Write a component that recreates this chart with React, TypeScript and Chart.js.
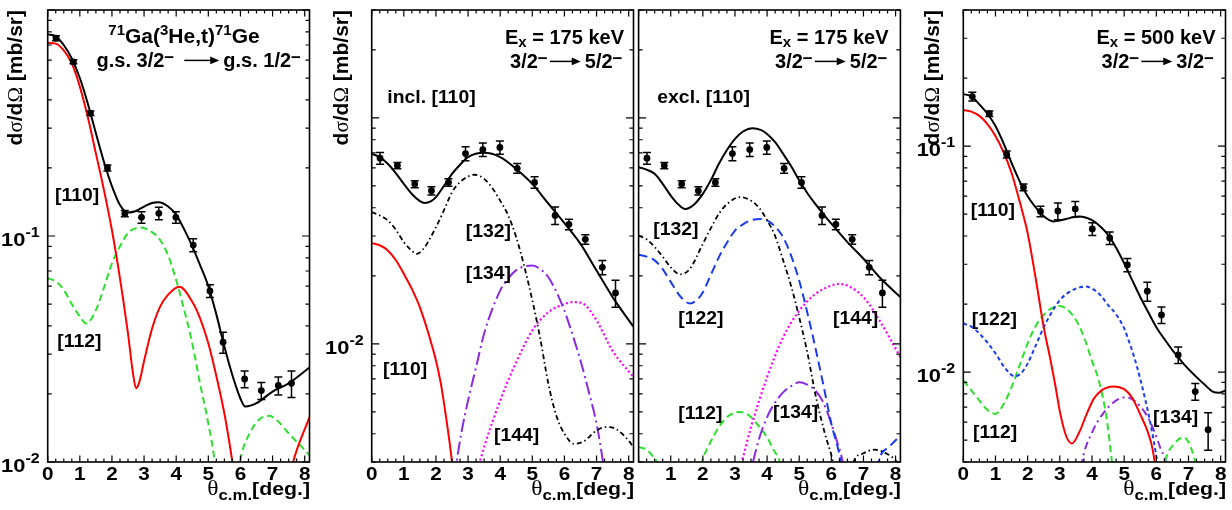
import React, { useEffect, useRef } from 'react';
import { Chart, registerables } from 'chart.js';

Chart.register(...registerables);

type Pt = [number, number];

const CANVAS_W = 1232;
const CANVAS_H = 510;
const X_MAX = 8.15;

// ---------------- Panel 1 : 71Ga(3He,t)71Ge  g.s. -> g.s. ----------------
const p1Angles = [0.26, 0.8, 1.33, 1.86, 2.4, 2.92, 3.46, 3.99, 4.53, 5.05, 5.46, 6.13, 6.65, 7.18, 7.59];
const p1Sigma = [0.75, 0.59, 0.349, 0.2, 0.1256, 0.121, 0.126, 0.121, 0.0912, 0.0571, 0.0339, 0.0233, 0.0207, 0.0218, 0.0223];
const p1Errors = [0.019, 0.012, 0.008, 0.006, 0.004, 0.007, 0.008, 0.007, 0.006, 0.0037, 0.0036, 0.002, 0.0018, 0.002, 0.003];
const p1Total: Pt[] = [
  [0, 0.78], [0.25, 0.765], [0.5, 0.7], [0.75, 0.61], [1.0, 0.5], [1.25, 0.385], [1.5, 0.285], [1.75, 0.213],
  [2.0, 0.166], [2.25, 0.137], [2.5, 0.127], [2.75, 0.129], [3.0, 0.135], [3.25, 0.14], [3.45, 0.141],
  [3.75, 0.135], [4.0, 0.124], [4.25, 0.107], [4.5, 0.09], [4.75, 0.074], [5.0, 0.06], [5.25, 0.045],
  [5.5, 0.0324], [5.75, 0.0242], [6.0, 0.0191], [6.15, 0.0176], [6.5, 0.0182], [7.0, 0.0205], [7.5, 0.0223], [8.15, 0.0262],
];
const p1L110: Pt[] = [
  [0, 0.716], [0.25, 0.71], [0.5, 0.662], [0.75, 0.58], [1.0, 0.458], [1.25, 0.335], [1.5, 0.232], [1.75, 0.16],
  [2.0, 0.106], [2.25, 0.065], [2.5, 0.037], [2.65, 0.025], [2.75, 0.0212], [2.85, 0.0225], [3.0, 0.028],
  [3.25, 0.039], [3.5, 0.0487], [3.75, 0.055], [4.1, 0.0596], [4.5, 0.0512], [4.75, 0.043], [5.0, 0.0335],
  [5.25, 0.024], [5.5, 0.0164], [5.75, 0.01], [6.0, 0.0055], [6.3, 0.0022], [6.6, 0.0008], [6.9, 0.002],
  [7.25, 0.0055], [7.64, 0.01], [8.15, 0.0158],
];
const p1L112: Pt[] = [
  [0, 0.065], [0.25, 0.063], [0.5, 0.0577], [0.75, 0.05], [1.0, 0.044], [1.2, 0.041], [1.5, 0.047], [1.75, 0.059],
  [2.0, 0.0757], [2.25, 0.09], [2.5, 0.103], [2.9, 0.109], [3.25, 0.104], [3.5, 0.096], [3.75, 0.082], [4.0, 0.0638],
  [4.25, 0.047], [4.5, 0.0335], [4.75, 0.022], [5.0, 0.0148], [5.2, 0.01], [5.4, 0.005], [5.6, 0.0025],
  [5.8, 0.006], [6.0, 0.0102], [6.3, 0.0135], [6.6, 0.0155], [6.9, 0.016], [7.2, 0.015], [7.5, 0.0134],
  [8.0, 0.0113], [8.15, 0.0107],
];

// ---------------- Panels 2 & 3 : Ex = 175 keV (same data) ----------------
const p23Angles = [0.26, 0.8, 1.34, 1.86, 2.39, 2.92, 3.46, 3.99, 4.53, 5.07, 5.71, 6.14, 6.65, 7.18, 7.59];
const p23Sigma = [0.0663, 0.0615, 0.0509, 0.0476, 0.0518, 0.0695, 0.0724, 0.074, 0.0598, 0.0518, 0.037, 0.0338, 0.029, 0.0218, 0.0168];
const p23Errors = [0.004, 0.002, 0.0018, 0.002, 0.002, 0.005, 0.005, 0.005, 0.003, 0.003, 0.0033, 0.0018, 0.0014, 0.0016, 0.0023];

const p2Total: Pt[] = [
  [0, 0.0693], [0.25, 0.067], [0.5, 0.0626], [0.75, 0.057], [1.0, 0.051], [1.25, 0.046], [1.5, 0.0428],
  [1.65, 0.042], [1.85, 0.0428], [2.0, 0.0446], [2.25, 0.05], [2.5, 0.0565], [2.75, 0.062], [3.0, 0.067],
  [3.5, 0.07], [4.0, 0.067], [4.5, 0.0594], [5.0, 0.051], [5.5, 0.0417], [6.0, 0.0342], [6.5, 0.0277],
  [7.0, 0.0211], [7.5, 0.0161], [8.15, 0.0119],
];
const p2L132: Pt[] = [
  [0, 0.0383], [0.25, 0.037], [0.5, 0.0352], [0.75, 0.032], [1.0, 0.0282], [1.2, 0.0262], [1.4, 0.025],
  [1.6, 0.0262], [1.8, 0.029], [2.0, 0.0328], [2.25, 0.039], [2.5, 0.0469], [2.75, 0.052], [3.0, 0.055],
  [3.2, 0.056], [3.5, 0.0537], [3.75, 0.049], [4.0, 0.043], [4.25, 0.037], [4.5, 0.0296], [4.75, 0.022],
  [5.0, 0.0156], [5.25, 0.0105], [5.5, 0.00665], [5.75, 0.0048], [6.0, 0.004], [6.3, 0.00361], [6.6, 0.0037],
  [7.0, 0.00414], [7.3, 0.00428], [7.6, 0.0042], [8.0, 0.00373], [8.15, 0.00349],
];
const p2L110: Pt[] = [
  [0, 0.0279], [0.25, 0.0273], [0.5, 0.0259], [0.75, 0.0235], [1.0, 0.0204], [1.25, 0.0175], [1.5, 0.0145],
  [1.75, 0.0113], [2.0, 0.00844], [2.15, 0.0067], [2.3, 0.0049], [2.5, 0.003], [2.65, 0.0018], [2.8, 0.0008],
];
const p2L134: Pt[] = [
  [2.2, 0.0008], [2.45, 0.002], [2.64, 0.003], [2.8, 0.0041], [3.0, 0.00561], [3.25, 0.0079], [3.5, 0.0111],
  [3.75, 0.0142], [4.0, 0.0172], [4.25, 0.0195], [4.5, 0.0212], [4.75, 0.022], [5.0, 0.0222], [5.25, 0.0214],
  [5.5, 0.0197], [5.75, 0.017], [6.0, 0.014], [6.25, 0.011], [6.5, 0.00844], [6.75, 0.0062], [7.0, 0.00443],
  [7.2, 0.003], [7.4, 0.0018], [7.6, 0.0008],
];
const p2L144: Pt[] = [
  [2.9, 0.0018], [3.2, 0.0026], [3.36, 0.003], [3.5, 0.0035], [4.0, 0.00561], [4.5, 0.0083], [5.0, 0.01146],
  [5.5, 0.0138], [6.0, 0.015], [6.3, 0.0153], [6.6, 0.015], [7.0, 0.0127], [7.5, 0.0093], [8.15, 0.00713],
];

const p3Total: Pt[] = [
  [0, 0.0605], [0.25, 0.059], [0.5, 0.0565], [0.75, 0.051], [1.0, 0.0453], [1.25, 0.0412], [1.45, 0.0395],
  [1.7, 0.041], [2.0, 0.0461], [2.25, 0.053], [2.5, 0.0626], [2.75, 0.072], [3.0, 0.0807], [3.25, 0.087],
  [3.55, 0.09], [3.8, 0.0885], [4.0, 0.0849], [4.25, 0.078], [4.5, 0.0693], [4.75, 0.061], [5.0, 0.0529],
  [5.25, 0.0465], [5.5, 0.0416], [5.75, 0.0375], [6.0, 0.034], [6.5, 0.0282], [7.0, 0.0238], [7.5, 0.0197], [8.15, 0.0161],
];
const p3L132: Pt[] = [
  [0, 0.0301], [0.25, 0.029], [0.5, 0.0268], [0.75, 0.0243], [1.0, 0.0218], [1.3, 0.0203], [1.6, 0.0215],
  [2.0, 0.0277], [2.25, 0.0325], [2.5, 0.0376], [2.75, 0.0415], [3.15, 0.0446], [3.5, 0.043], [3.75, 0.04],
  [4.0, 0.0352], [4.25, 0.03], [4.5, 0.0234], [4.75, 0.018], [5.0, 0.0131], [5.25, 0.0092], [5.5, 0.00601],
  [5.8, 0.004], [6.05, 0.003], [6.3, 0.0018], [6.5, 0.0022], [6.69, 0.003], [7.0, 0.00328], [7.35, 0.0034],
  [7.7, 0.00328], [8.04, 0.003], [8.15, 0.0028],
];
const p3L122: Pt[] = [
  [0, 0.0248], [0.25, 0.0243], [0.5, 0.0234], [0.75, 0.0214], [1.0, 0.0188], [1.3, 0.0162], [1.6, 0.0151],
  [1.85, 0.0158], [2.0, 0.0169], [2.25, 0.0202], [2.5, 0.0242], [2.75, 0.028], [3.0, 0.0317], [3.25, 0.0338],
  [3.5, 0.0352], [3.8, 0.0357], [4.0, 0.0352], [4.25, 0.033], [4.5, 0.0296], [4.75, 0.0245], [5.0, 0.019],
  [5.25, 0.0138], [5.5, 0.00966], [5.75, 0.0066], [6.0, 0.00443], [6.3, 0.003], [6.6, 0.0015], [6.9, 0.0009],
  [7.2, 0.0015], [7.47, 0.003], [7.8, 0.0035], [8.15, 0.00393],
];
const p3L134: Pt[] = [
  [3.0, 0.0012], [3.3, 0.0022], [3.56, 0.003], [3.75, 0.0038], [4.0, 0.00474], [4.25, 0.0055], [4.5, 0.0061],
  [4.75, 0.0065], [5.0, 0.00676], [5.25, 0.0066], [5.5, 0.00622], [5.75, 0.0055], [6.0, 0.00443], [6.2, 0.0036],
  [6.35, 0.003], [6.6, 0.0015], [6.8, 0.0006],
];
const p3L144: Pt[] = [
  [2.7, 0.0012], [3.0, 0.0024], [3.21, 0.003], [3.5, 0.00428], [4.0, 0.00713], [4.5, 0.0107], [5.0, 0.014],
  [5.5, 0.0166], [6.0, 0.0181], [6.2, 0.0184], [6.5, 0.0181], [7.0, 0.0161], [7.5, 0.0127], [8.15, 0.00873],
];
const p3L112: Pt[] = [
  [0, 0.00349], [0.25, 0.0034], [0.5, 0.0031], [0.56, 0.003], [0.8, 0.0018], [1.1, 0.0008], [1.5, 0.0012],
  [1.75, 0.0022], [1.97, 0.003], [2.25, 0.0037], [2.5, 0.00428], [2.8, 0.0048], [3.15, 0.00499], [3.5, 0.00474],
  [3.75, 0.0043], [4.0, 0.00386], [4.2, 0.0034], [4.4, 0.003], [4.6, 0.0022], [4.9, 0.001],
];

// ---------------- Panel 4 : Ex = 500 keV ----------------
const p4Angles = [0.28, 0.81, 1.35, 1.87, 2.4, 2.94, 3.48, 4.01, 4.55, 5.1, 5.72, 6.16, 6.68, 7.21, 7.61];
const p4Sigma = [0.1656, 0.139, 0.0918, 0.0657, 0.0514, 0.0516, 0.0527, 0.043, 0.0392, 0.0298, 0.0228, 0.0179, 0.0119, 0.0082, 0.00556];
const p4Errors = [0.0075, 0.004, 0.0032, 0.0022, 0.0027, 0.0044, 0.0041, 0.0028, 0.0025, 0.002, 0.0022, 0.0015, 0.001, 0.0007, 0.00105];
const p4Total: Pt[] = [
  [0, 0.1698], [0.25, 0.166], [0.5, 0.153], [0.75, 0.139], [1.0, 0.1227], [1.25, 0.103], [1.5, 0.0843],
  [1.75, 0.07], [2.0, 0.06], [2.25, 0.0535], [2.5, 0.0489], [2.8, 0.0464], [3.0, 0.0468], [3.3, 0.048],
  [3.6, 0.0488], [3.8, 0.0483], [4.0, 0.047], [4.25, 0.0442], [4.5, 0.0405], [4.75, 0.0355], [5.0, 0.0303],
  [5.25, 0.0255], [5.5, 0.0215], [5.75, 0.0184], [6.0, 0.0158], [6.25, 0.014], [6.5, 0.0125], [6.75, 0.0113],
  [7.0, 0.0103], [7.25, 0.0095], [7.5, 0.0088], [7.75, 0.0082], [7.95, 0.0081], [8.15, 0.0083],
];
const p4L110: Pt[] = [
  [0, 0.1445], [0.25, 0.142], [0.5, 0.136], [0.75, 0.125], [1.0, 0.1107], [1.25, 0.094], [1.5, 0.076],
  [1.75, 0.057], [2.0, 0.0412], [2.25, 0.026], [2.5, 0.0158], [2.7, 0.0115], [2.85, 0.0089], [3.01, 0.0066],
  [3.2, 0.0052], [3.38, 0.00483], [3.6, 0.0054], [3.85, 0.0066], [4.05, 0.0076], [4.3, 0.0083], [4.67, 0.00864],
  [5.0, 0.0084], [5.25, 0.0077], [5.5, 0.0065], [5.7, 0.0056], [5.85, 0.0048], [5.95, 0.004], [6.15, 0.0024], [6.4, 0.001],
];
const p4L122: Pt[] = [
  [0, 0.0164], [0.25, 0.0159], [0.5, 0.0148], [0.75, 0.0135], [1.0, 0.0121], [1.3, 0.0104], [1.6, 0.00957],
  [1.8, 0.0099], [2.0, 0.0109], [2.25, 0.0131], [2.5, 0.0158], [2.75, 0.0184], [3.0, 0.0208], [3.25, 0.0224],
  [3.5, 0.0234], [3.8, 0.0239], [4.0, 0.0234], [4.25, 0.022], [4.5, 0.0198], [4.75, 0.018], [5.0, 0.0156],
  [5.14, 0.0138], [5.3, 0.0118], [5.51, 0.0092], [5.82, 0.0059], [6.03, 0.004], [6.3, 0.0022], [6.6, 0.001],
];
const p4L112: Pt[] = [
  [0, 0.00918], [0.25, 0.0083], [0.5, 0.00748], [0.75, 0.0068], [1.0, 0.00653], [1.25, 0.0072], [1.5, 0.00858],
  [1.75, 0.0107], [2.0, 0.0134], [2.25, 0.016], [2.5, 0.0179], [2.75, 0.0192], [3.0, 0.0196], [3.25, 0.0188],
  [3.5, 0.017], [3.75, 0.0143], [4.0, 0.0112], [4.21, 0.0092], [4.45, 0.0063], [4.62, 0.004], [4.85, 0.002],
  [5.2, 0.0008], [5.7, 0.0012], [6.05, 0.0026], [6.29, 0.0041], [6.55, 0.0048], [6.84, 0.00514], [7.0, 0.0049],
  [7.17, 0.0042], [7.35, 0.0032], [7.6, 0.0015],
];
const p4L134: Pt[] = [
  [3.45, 0.0022], [3.69, 0.004], [4.0, 0.0054], [4.36, 0.0066], [4.7, 0.0074], [5.05, 0.00775], [5.4, 0.0073],
  [5.71, 0.0064], [5.95, 0.0054], [6.13, 0.0046], [6.3, 0.004], [6.5, 0.0028], [6.8, 0.0012],
];

// ---------------- styles ----------------
const SANS = '"Liberation Sans", Arial, Helvetica, sans-serif';
const SERIF = '"Liberation Serif", "Times New Roman", serif';

const STY: Record<string, { color: string; dash: number[]; width: number }> = {
  total: { color: '#000000', dash: [], width: 2 },
  l110: { color: '#ff0000', dash: [], width: 2 },
  l112: { color: '#2ee02e', dash: [7, 4], width: 2 },
  l122a: { color: '#1a3cf0', dash: [9, 5], width: 2 },
  l122b: { color: '#1a3cf0', dash: [4, 3], width: 2 },
  l132: { color: '#000000', dash: [5, 3, 1.5, 3], width: 1.8 },
  l134a: { color: '#8a2be2', dash: [13, 4, 2, 4], width: 2 },
  l134b: { color: '#8a2be2', dash: [8, 4, 2, 4], width: 2 },
  l144: { color: '#ff00ff', dash: [2, 2.5], width: 2.2 },
};

type Seg = { t?: string; size?: number; family?: string; bold?: boolean; dy?: number; arrow?: number; gap?: number };

const MINUS_SUP: Seg = { t: '\u2212', size: 17, dy: -4.5 };

function segFont(s: Seg, base: number) {
  const size = s.size ?? base;
  const bold = s.bold ?? true;
  return `${bold ? 'bold ' : ''}${size}px ${s.family ?? SANS}`;
}

function drawRich(ctx: CanvasRenderingContext2D, segs: Seg[], x: number, y: number, align: string, base: number, sx = 1) {
  const widths = segs.map((s) => {
    if (s.arrow) return s.arrow;
    if (s.gap) return s.gap;
    ctx.font = segFont(s, base);
    return ctx.measureText(s.t || '').width;
  });
  const total = widths.reduce((a, b) => a + b, 0) * sx;
  const start = align === 'left' ? x : align === 'right' ? x - total : x - total / 2;
  ctx.save();
  ctx.translate(start, y);
  ctx.scale(sx, 1);
  ctx.textAlign = 'left';
  ctx.textBaseline = 'alphabetic';
  ctx.fillStyle = '#000';
  ctx.strokeStyle = '#000';
  let cx = 0;
  segs.forEach((s, i) => {
    if (s.arrow) {
      const ay = -0.33 * base;
      ctx.lineWidth = 1.5;
      ctx.beginPath();
      ctx.moveTo(cx, ay);
      ctx.lineTo(cx + s.arrow - 6, ay);
      ctx.stroke();
      ctx.beginPath();
      ctx.moveTo(cx + s.arrow, ay);
      ctx.lineTo(cx + s.arrow - 9, ay - 3.8);
      ctx.lineTo(cx + s.arrow - 9, ay + 3.8);
      ctx.closePath();
      ctx.fill();
    } else if (s.t) {
      ctx.font = segFont(s, base);
      ctx.fillText(s.t, cx, s.dy ?? 0);
    }
    cx += widths[i];
  });
  ctx.restore();
}

const Y_TITLE: Seg[] = [
  { t: 'd' }, { t: '\u03c3', family: SERIF, bold: false }, { t: '/d' }, { t: '\u03a9', family: SERIF, bold: false }, { t: ' [mb/sr]' },
];
const X_TITLE: Seg[] = [
  { t: '\u03b8', family: SERIF, bold: false, size: 21 }, { t: 'c.m.', size: 15, dy: 5 }, { t: '[deg.]' },
];

type Label = { text: string; x: number; cy: number };
type PanelDef = {
  id: string;
  area: { left: number; right: number; top: number; bottom: number };
  yMin: number;
  yMax: number;
  angles: number[];
  sigma: number[];
  errors: number[];
  curves: { pts: Pt[]; style: string }[];
  yLabels: number[];
  xLabels: number[];
  yTitleX: number | null;
  labels: Label[];
  titles: { segs: Seg[]; x: number; y: number; align: string; size: number }[];
};

const arrowLine = (a: string, b: string, wide: boolean): Seg[] =>
  wide
    ? [{ t: a }, MINUS_SUP, { gap: 10 }, { arrow: 35 }, { gap: 4 }, { t: b }, MINUS_SUP]
    : [{ t: a }, MINUS_SUP, { gap: 2 }, { arrow: 31 }, { gap: 4 }, { t: b }, MINUS_SUP];

const exLine = (e: string): Seg[] => [{ t: 'E' }, { t: 'x', size: 15, dy: 3 }, { t: ` = ${e} keV` }];

const PANELS: PanelDef[] = [
  {
    id: 'p1',
    area: { left: 47.7, right: 309.5, top: 10, bottom: 462 },
    yMin: 0.01, yMax: 1,
    angles: p1Angles, sigma: p1Sigma, errors: p1Errors,
    curves: [
      { pts: p1L112, style: 'l112' },
      { pts: p1L110, style: 'l110' },
      { pts: p1Total, style: 'total' },
    ],
    yLabels: [0.1, 0.01],
    xLabels: [0, 1, 2, 3, 4, 5, 6, 7, 8],
    yTitleX: 21.5,
    labels: [
      { text: '[110]', x: 55, cy: 195 },
      { text: '[112]', x: 57.3, cy: 341.7 },
    ],
    titles: [
      {
        segs: [
          { t: '71', size: 15, dy: -8 }, { t: 'Ga(' }, { t: '3', size: 15, dy: -8 }, { t: 'He,t)' },
          { t: '71', size: 15, dy: -8 }, { t: 'Ge' },
        ],
        x: 184, y: 43, align: 'center', size: 21,
      },
      { segs: arrowLine('g.s. 3/2', 'g.s. 1/2', true), x: 301, y: 67, align: 'right', size: 20 },
    ],
  },
  {
    id: 'p2',
    area: { left: 371.7, right: 633.5, top: 10, bottom: 462 },
    yMin: 0.003, yMax: 0.3,
    angles: p23Angles, sigma: p23Sigma, errors: p23Errors,
    curves: [
      { pts: p2L144, style: 'l144' },
      { pts: p2L134, style: 'l134a' },
      { pts: p2L110, style: 'l110' },
      { pts: p2L132, style: 'l132' },
      { pts: p2Total, style: 'total' },
    ],
    yLabels: [0.01],
    xLabels: [0, 1, 2, 3, 4, 5, 6, 7, 8],
    yTitleX: 347.6,
    labels: [
      { text: 'incl. [110]', x: 387.3, cy: 97.5 },
      { text: '[132]', x: 465.7, cy: 231 },
      { text: '[134]', x: 465.7, cy: 273.7 },
      { text: '[110]', x: 383, cy: 369 },
      { text: '[144]', x: 494, cy: 435.3 },
    ],
    titles: [
      { segs: exLine('175'), x: 624, y: 43.5, align: 'right', size: 20 },
      { segs: arrowLine('3/2', '5/2', false), x: 622.5, y: 68, align: 'right', size: 20 },
    ],
  },
  {
    id: 'p3',
    area: { left: 638.6, right: 900.4, top: 10, bottom: 462 },
    yMin: 0.003, yMax: 0.3,
    angles: p23Angles, sigma: p23Sigma, errors: p23Errors,
    curves: [
      { pts: p3L112, style: 'l112' },
      { pts: p3L144, style: 'l144' },
      { pts: p3L134, style: 'l134a' },
      { pts: p3L122, style: 'l122a' },
      { pts: p3L132, style: 'l132' },
      { pts: p3Total, style: 'total' },
    ],
    yLabels: [],
    xLabels: [1, 2, 3, 4, 5, 6, 7, 8],
    yTitleX: null,
    labels: [
      { text: 'excl. [110]', x: 657.3, cy: 97.5 },
      { text: '[132]', x: 653.3, cy: 229.5 },
      { text: '[122]', x: 678.3, cy: 318.3 },
      { text: '[144]', x: 833, cy: 318.3 },
      { text: '[112]', x: 678.3, cy: 413.5 },
      { text: '[134]', x: 773, cy: 412.8 },
    ],
    titles: [
      { segs: exLine('175'), x: 888.5, y: 43.5, align: 'right', size: 20 },
      { segs: arrowLine('3/2', '5/2', false), x: 887.5, y: 68, align: 'right', size: 20 },
    ],
  },
  {
    id: 'p4',
    area: { left: 963.3, right: 1225.5, top: 10, bottom: 462 },
    yMin: 0.004, yMax: 0.4,
    angles: p4Angles, sigma: p4Sigma, errors: p4Errors,
    curves: [
      { pts: p4L134, style: 'l134b' },
      { pts: p4L112, style: 'l112' },
      { pts: p4L122, style: 'l122b' },
      { pts: p4L110, style: 'l110' },
      { pts: p4Total, style: 'total' },
    ],
    yLabels: [0.1, 0.01],
    xLabels: [0, 1, 2, 3, 4, 5, 6, 7, 8],
    yTitleX: 939,
    labels: [
      { text: '[110]', x: 970.7, cy: 210.8 },
      { text: '[122]', x: 971.7, cy: 319 },
      { text: '[112]', x: 973, cy: 432.5 },
      { text: '[134]', x: 1153, cy: 417.5 },
    ],
    titles: [
      { segs: exLine('500'), x: 1215.5, y: 43.5, align: 'right', size: 20 },
      { segs: arrowLine('3/2', '3/2', false), x: 1214, y: 68, align: 'right', size: 20 },
    ],
  },
];

function makePlugin(p: PanelDef) {
  return {
    id: 'decor_' + p.id,
    afterDatasetsDraw(chart: any) {
      const ctx: CanvasRenderingContext2D = chart.ctx;
      const xs = chart.scales.x;
      const ys = chart.scales.y;
      ctx.save();
      ctx.strokeStyle = '#000';
      ctx.lineWidth = 1.5;
      p.angles.forEach((a, i) => {
        const px = xs.getPixelForValue(a);
        const yHi = ys.getPixelForValue(p.sigma[i] + p.errors[i]);
        const yLo = ys.getPixelForValue(p.sigma[i] - p.errors[i]);
        ctx.beginPath();
        ctx.moveTo(px, yLo);
        ctx.lineTo(px, yHi);
        ctx.moveTo(px - 4, yLo);
        ctx.lineTo(px + 4, yLo);
        ctx.moveTo(px - 4, yHi);
        ctx.lineTo(px + 4, yHi);
        ctx.stroke();
      });
      ctx.restore();
    },
    afterDraw(chart: any) {
      const ctx: CanvasRenderingContext2D = chart.ctx;
      const xs = chart.scales.x;
      const ys = chart.scales.y;
      const { left, right, top, bottom } = chart.chartArea;
      ctx.save();
      ctx.strokeStyle = '#000';
      // ticks
      ctx.lineWidth = 1.2;
      ctx.beginPath();
      for (let i = 0; i * 0.25 <= X_MAX + 1e-9; i++) {
        const v = i * 0.25;
        const px = xs.getPixelForValue(v);
        const len = i % 4 === 0 ? 6.5 : 3.5;
        ctx.moveTo(px, bottom);
        ctx.lineTo(px, bottom - len);
        ctx.moveTo(px, top);
        ctx.lineTo(px, top + len);
      }
      const kLo = Math.floor(Math.log10(p.yMin)) - 1;
      const kHi = Math.ceil(Math.log10(p.yMax));
      for (let k = kLo; k <= kHi; k++) {
        for (let m = 1; m <= 9; m++) {
          const v = m * Math.pow(10, k);
          if (v < p.yMin * 0.999 || v > p.yMax * 1.001) continue;
          const py = ys.getPixelForValue(v);
          const len = m === 1 ? 7.5 : 4;
          ctx.moveTo(left, py);
          ctx.lineTo(left + len, py);
          ctx.moveTo(right, py);
          ctx.lineTo(right - len, py);
        }
      }
      ctx.stroke();
      // frame
      ctx.lineWidth = 1.6;
      ctx.strokeRect(left, top, right - left, bottom - top);

      // x tick labels
      p.xLabels.forEach((n) => {
        const px = xs.getPixelForValue(n);
        drawRich(ctx, [{ t: String(n) }], px, 480, 'center', 18, 1.15);
      });
      // y tick labels
      p.yLabels.forEach((v) => {
        const py = ys.getPixelForValue(v);
        const exp = Math.round(Math.log10(v));
        drawRich(ctx, [{ t: '10' }, { t: String(exp), size: 14, dy: -9 }], left - 8, py + 10, 'right', 19, 1.15);
      });
      // x title
      drawRich(ctx, X_TITLE, right + 0.5, 495, 'right', 19, 1.12);
      // y title
      if (p.yTitleX !== null) {
        ctx.save();
        ctx.translate(p.yTitleX, top);
        ctx.rotate(-Math.PI / 2);
        drawRich(ctx, Y_TITLE, 0, 0, 'right', 21, 1);
        ctx.restore();
      }
      // annotation labels
      p.labels.forEach((l) => drawRich(ctx, [{ t: l.text }], l.x, l.cy + 5.5, 'left', 19, 1.02));
      // titles
      p.titles.forEach((t) => drawRich(ctx, t.segs, t.x, t.y, t.align, t.size, 1.0));
      ctx.restore();
    },
  };
}

function buildConfig(p: PanelDef): any {
  const pointSet = {
    data: p.angles.map((a, i) => ({ x: a, y: p.sigma[i] })),
    showLine: false,
    pointRadius: 3.4,
    pointBackgroundColor: '#000',
    pointBorderColor: '#000',
    pointBorderWidth: 0,
    borderWidth: 0,
  };
  const curveSets = p.curves
    .slice()
    .reverse()
    .map((c) => {
      const st = STY[c.style];
      return {
        data: c.pts.map(([x, y]) => ({ x, y })),
        borderColor: st.color,
        borderWidth: st.width,
        borderDash: st.dash,
        pointRadius: 0,
        fill: false,
        cubicInterpolationMode: 'monotone',
        capBezierPoints: false,
      };
    });
  return {
    type: 'line',
    data: { datasets: [pointSet, ...curveSets] },
    options: {
      animation: false,
      responsive: false,
      devicePixelRatio: 1,
      events: [],
      layout: {
        padding: {
          left: p.area.left,
          right: CANVAS_W - p.area.right,
          top: p.area.top,
          bottom: CANVAS_H - p.area.bottom,
        },
      },
      elements: { line: { capBezierPoints: false } },
      plugins: { legend: { display: false }, tooltip: { enabled: false }, title: { display: false } },
      scales: {
        x: { type: 'linear', min: 0, max: X_MAX, display: false },
        y: { type: 'logarithmic', min: p.yMin, max: p.yMax, display: false },
      },
    },
    plugins: [makePlugin(p)],
  };
}

function PanelCanvas({ panel }: { panel: PanelDef }) {
  const ref = useRef<HTMLCanvasElement>(null);
  useEffect(() => {
    if (!ref.current) return;
    const chart = new Chart(ref.current, buildConfig(panel));
    return () => chart.destroy();
  }, [panel]);
  return (
    <canvas
      ref={ref}
      width={CANVAS_W}
      height={CANVAS_H}
      style={{ position: 'absolute', left: 0, top: 0, width: CANVAS_W, height: CANVAS_H }}
    />
  );
}

export default function App() {
  return (
    <div style={{ position: 'absolute', left: 0, top: 0, width: CANVAS_W, height: CANVAS_H, background: '#fff', overflow: 'hidden' }}>
      {PANELS.map((p) => (
        <PanelCanvas key={p.id} panel={p} />
      ))}
    </div>
  );
}
